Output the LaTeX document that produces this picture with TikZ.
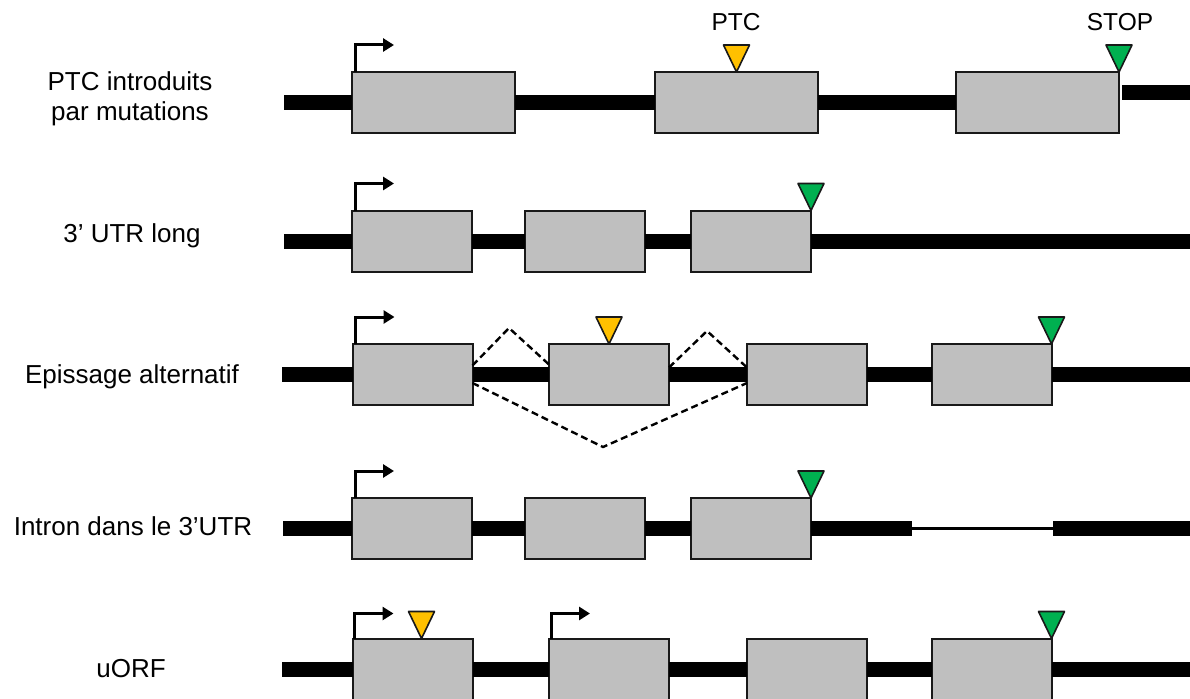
\documentclass[tikz,border=0pt]{standalone}
\usepackage{fontspec}
\setmainfont{Liberation Sans}
\usetikzlibrary{arrows.meta}

\definecolor{exongris}{RGB}{191,191,191}
\definecolor{ptcjaune}{RGB}{255,192,0}
\definecolor{stopvert}{RGB}{0,176,80}

% triangle pointe en bas, pointe sur #2
\newcommand{\codon}[2]{\draw[codon,fill=#1] (#2) -- ++(-13,-27) -- ++(26,0) -- cycle;}

\begin{document}
\begin{tikzpicture}[x=1pt,y=-1pt,
	exon/.style={draw=black!90,line width=2pt,fill=exongris,minimum height=61pt,minimum width=120pt,inner sep=0pt,outer sep=0pt},
	brin/.style={line width=15pt},
	intron/.style={line width=3pt},
	tss/.style={line width=3pt,-{Triangle[length=11pt,width=13pt]}},
	codon/.style={draw=black!90,line width=1.6pt,line join=round},
	saut/.style={dash pattern=on 7pt off 4pt,line width=2.4pt},
	nom/.style={font=\fontsize{26}{30}\selectfont,align=center,inner sep=0pt},
	titre/.style={font=\fontsize{24.5}{28}\selectfont,inner sep=0pt}]
		
		\clip (0,0) rectangle (1190,698);
		
		% PTC introduits par mutations
		\node[nom] (nomA) at (130,99) {PTC introduits\\par mutations};
		\foreach \n/\x in {1/433.5,2/736.5,3/1037.5}
		\node[exon,minimum width=163pt] (exA\n) at (\x,102.5) {};
		\coordinate (debA) at (284,102.5);
		\coordinate (finA) at (1190,93);
		\draw[brin] (debA) -- (exA1.west);
		\draw[brin] (exA1.east) -- (exA2.west);
		\draw[brin] (exA2.east) -- (exA3.west);
		\draw[brin] (finA -| exA3.east) ++(3,0) -- (finA);
		\draw[tss] ([xshift=3pt]exA1.north west) -- ++(0,-27) -- ++(39,0);
		\codon{ptcjaune}{exA2.north}
		\codon{stopvert}{exA3.north east}
		\node[titre] (ptc) at (736,22) {PTC};
		\node[titre] (stop) at (1120,22) {STOP};
		
		% 3' UTR long
		\node[nom,anchor=base] (nomB) at (132,242) {3’ UTR long};
		\foreach \n/\x in {1/412,2/585,3/751}
		\node[exon] (exB\n) at (\x,241) {};
		\coordinate (debB) at (284,241);
		\coordinate (finB) at (1190,241);
		\draw[brin] (debB) -- (exB1.west);
		\draw[brin] (exB1.east) -- (exB2.west);
		\draw[brin] (exB2.east) -- (exB3.west);
		\draw[brin] (exB3.east) -- (finB);
		\draw[tss] ([xshift=3pt]exB1.north west) -- ++(0,-27) -- ++(39,0);
		\codon{stopvert}{exB3.north east}
		
		% Epissage alternatif
		\node[nom,anchor=base] (nomC) at (132,383) {Epissage alternatif};
		\foreach \n/\x in {1/412.5,2/609,3/807,4/991.5}
		\node[exon] (exC\n) at (\x,374.5) {};
		\coordinate (debC) at (282,374.5);
		\coordinate (finC) at (1190,374.5);
		\draw[brin] (debC) -- (exC1.west);
		\draw[brin] (exC1.east) -- (exC2.west);
		\draw[brin] (exC2.east) -- (exC3.west);
		\draw[brin] (exC3.east) -- (exC4.west);
		\draw[brin] (exC4.east) -- (finC);
		\draw[tss] ([xshift=3pt]exC1.north west) -- ++(0,-27) -- ++(39,0);
		\coordinate (sautA) at (509,328);
		\coordinate (sautB) at (707,331);
		\coordinate (sautC) at (603,447);
		\draw[saut] ([yshift=9pt]exC1.east) -- (sautA) -- ([yshift=10pt]exC2.west);
		\draw[saut] ([yshift=7pt]exC2.east) -- (sautB) -- ([yshift=7pt]exC3.west);
		\draw[saut] ([yshift=-8.5pt]exC1.east) -- (sautC) -- ([yshift=-8.5pt]exC3.west);
		\codon{ptcjaune}{exC2.north}
		\codon{stopvert}{exC4.north east}
		
		% Intron dans le 3'UTR
		\node[nom,anchor=base] (nomD) at (133,535) {Intron dans le 3’UTR};
		\foreach \n/\x in {1/412,2/585,3/751}
		\node[exon] (exD\n) at (\x,528.5) {};
		\coordinate (debD) at (283,528.5);
		\coordinate (intD) at (912,528.5);
		\coordinate (retD) at (1053,528.5);
		\coordinate (finD) at (1190,528.5);
		\draw[brin] (debD) -- (exD1.west);
		\draw[brin] (exD1.east) -- (exD2.west);
		\draw[brin] (exD2.east) -- (exD3.west);
		\draw[brin] (exD3.east) -- (intD);
		\draw[intron] (intD) -- (retD);
		\draw[brin] (retD) -- (finD);
		\draw[tss] ([xshift=3pt]exD1.north west) -- ++(0,-27) -- ++(39,0);
		\codon{stopvert}{exD3.north east}
		
		% uORF
		\node[nom,anchor=base] (nomE) at (131,677) {uORF};
		\foreach \n/\x in {1/412.5,2/609,3/807,4/991.5}
		\node[exon] (exE\n) at (\x,669) {};
		\coordinate (debE) at (282,669);
		\coordinate (finE) at (1190,669);
		\draw[brin] (debE) -- (exE1.west);
		\draw[brin] (exE1.east) -- (exE2.west);
		\draw[brin] (exE2.east) -- (exE3.west);
		\draw[brin] (exE3.east) -- (exE4.west);
		\draw[brin] (exE4.east) -- (finE);
		\draw[tss] ([xshift=2pt]exE1.north west) -- ++(0,-25) -- ++(39,0);
		\draw[tss] ([xshift=2pt]exE2.north west) -- ++(0,-25) -- ++(39,0);
		\codon{ptcjaune}{[xshift=69pt]exE1.north west}
		\codon{stopvert}{exE4.north east}
		
\end{tikzpicture}
\end{document}
